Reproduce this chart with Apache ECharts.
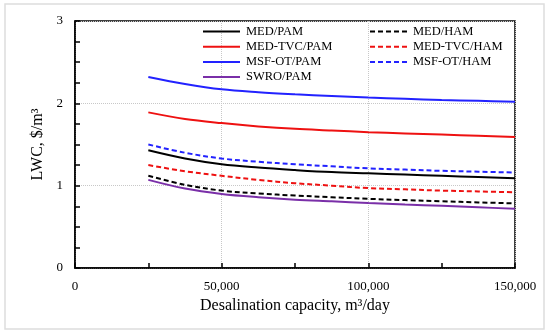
<!DOCTYPE html>
<html><head><meta charset="utf-8">
<script src="https://cdn.jsdelivr.net/npm/echarts@6/dist/echarts.min.js"></script>
<style>html,body{margin:0;padding:0;background:#fff}#c{width:550px;height:336px}</style>
</head><body><div id="c"></div>
<script>
var capacity = [25000, 37500, 50000, 62500, 75000, 87500, 100000, 112500, 125000, 137500, 150000];
var medPam    = [1.43, 1.33, 1.26, 1.22, 1.19, 1.165, 1.15, 1.135, 1.12, 1.105, 1.09];
var medHam    = [1.12, 1.01, 0.94, 0.905, 0.88, 0.86, 0.84, 0.825, 0.81, 0.797, 0.785];
var tvcPam    = [1.89, 1.81, 1.76, 1.72, 1.69, 1.67, 1.65, 1.635, 1.62, 1.605, 1.59];
var tvcHam    = [1.25, 1.175, 1.12, 1.07, 1.03, 1.00, 0.97, 0.955, 0.94, 0.93, 0.92];
var msfPam    = [2.32, 2.235, 2.17, 2.135, 2.11, 2.09, 2.07, 2.055, 2.04, 2.03, 2.02];
var msfHam    = [1.50, 1.40, 1.33, 1.29, 1.26, 1.235, 1.21, 1.195, 1.18, 1.17, 1.16];
var swroPam   = [1.07, 0.965, 0.90, 0.86, 0.83, 0.81, 0.79, 0.772, 0.755, 0.737, 0.72];

function pairs(v){ return capacity.map(function(x,i){ return [x, v[i]]; }); }
var FONT = 'Liberation Serif';
function mk(name, data, color, dashed){
  return { name: name, type: 'line', data: pairs(data), smooth: 0.35, symbol: 'none',
    lineStyle: { color: color, width: 2, type: dashed ? [5,3] : 'solid' },
    itemStyle: { color: color } };
}
var legText = { fontFamily: FONT, fontSize: 12.5, color: '#000', padding: [0,0,0,1] };
var chart = echarts.init(document.getElementById('c'));
chart.setOption({
  animation: false,
  backgroundColor: '#fff',
  graphic: [{ type: 'rect', shape: { x: 5, y: 4, width: 539, height: 325 },
    style: { fill: 'none', stroke: '#dddddd', lineWidth: 1.5 }, silent: true }],
  grid: { left: 75, top: 21, right: 35, bottom: 68, show: true, borderColor: '#000', borderWidth: 1.5 },
  legend: [
    { data: ['MED/PAM', 'MED-TVC/PAM', 'MSF-OT/PAM', 'SWRO/PAM'], orient: 'vertical',
      left: 197, top: 20, itemWidth: 37, itemHeight: 14, itemGap: 2.2,
      itemStyle: { opacity: 0 }, textStyle: legText },
    { data: ['MED/HAM', 'MED-TVC/HAM', 'MSF-OT/HAM'], orient: 'vertical',
      left: 364, top: 20, itemWidth: 37, itemHeight: 14, itemGap: 2.2,
      itemStyle: { opacity: 0 }, textStyle: legText }
  ],
  xAxis: {
    type: 'value', min: 0, max: 150000, interval: 50000,
    name: 'Desalination capacity, m\u00b3/day', nameLocation: 'middle', nameGap: 30,
    nameTextStyle: { fontFamily: FONT, fontSize: 16, color: '#000' },
    axisLine: { lineStyle: { color: '#000', width: 1.5 } },
    axisTick: { inside: true, length: 5, lineStyle: { color: '#000', width: 1.5 } },
    minorTick: { show: true, splitNumber: 2, length: 5, lineStyle: { color: '#000', width: 1.5 } },
    axisLabel: { fontFamily: FONT, fontSize: 13, color: '#000', margin: 12,
      formatter: function(v){ return v.toLocaleString('en-US'); } },
    splitLine: { show: true, lineStyle: { color: '#c8c8c8', type: 'dotted', width: 1 } }
  },
  yAxis: {
    type: 'value', min: 0, max: 3, interval: 1,
    name: 'LWC, $/m\u00b3', nameLocation: 'middle', nameGap: 18, nameRotate: 90,
    nameTextStyle: { fontFamily: FONT, fontSize: 16, color: '#000' },
    axisLine: { show: true, lineStyle: { color: '#000', width: 1.5 } },
    axisTick: { inside: true, length: 5, lineStyle: { color: '#000', width: 1.5 } },
    minorTick: { show: true, splitNumber: 4, length: 5, lineStyle: { color: '#000', width: 1.5 } },
    axisLabel: { fontFamily: FONT, fontSize: 13, color: '#000', margin: 12 },
    splitLine: { show: true, lineStyle: { color: '#c8c8c8', type: 'dotted', width: 1 } }
  },
  series: [
    mk('MED/PAM', medPam, '#000000', false),
    mk('MED/HAM', medHam, '#000000', true),
    mk('MED-TVC/PAM', tvcPam, '#ee1111', false),
    mk('MED-TVC/HAM', tvcHam, '#ee1111', true),
    mk('MSF-OT/PAM', msfPam, '#2222ff', false),
    mk('MSF-OT/HAM', msfHam, '#2222ff', true),
    mk('SWRO/PAM', swroPam, '#7a2fa8', false)
  ]
});
</script></body></html>
